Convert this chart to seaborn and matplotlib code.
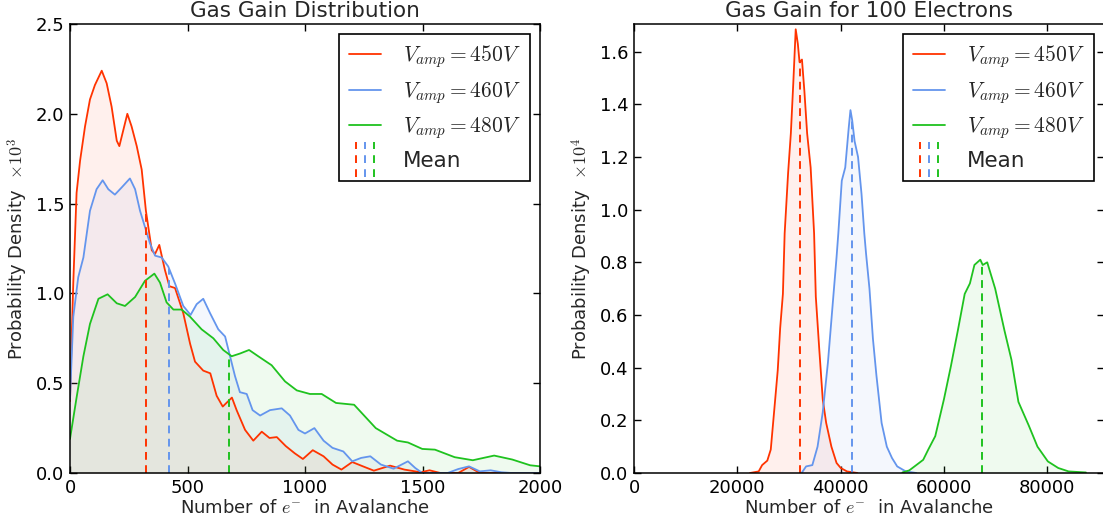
import numpy as np
import pandas as pd
import matplotlib
matplotlib.use('Agg')
import matplotlib.pyplot as plt
import seaborn as sns
from matplotlib.lines import Line2D
from matplotlib.legend_handler import HandlerBase

# ---- data (density in units of 1e-3 / 1e-4) ----
# left panel: single electron gain distribution
red_x = [0, 7, 14, 28, 43, 64, 85, 106, 135, 156, 177, 199, 210, 227, 244, 262, 284, 305,
         323, 348, 362, 380, 404, 423, 447, 482, 511, 532, 567, 597, 624, 650, 689, 709,
         745, 780, 816, 849, 880, 918, 956, 991, 1033, 1079, 1117, 1155, 1201, 1239, 1293,
         1362, 1423, 1492, 1530, 1576, 1652, 1698, 1744, 2000]
red_y = [0.4, 0.75, 1.06, 1.56, 1.74, 1.93, 2.08, 2.16, 2.24, 2.17, 2.04, 1.85, 1.82, 1.91,
         2.0, 1.93, 1.82, 1.69, 1.46, 1.24, 1.22, 1.27, 1.13, 1.04, 1.03, 0.89, 0.72, 0.62,
         0.57, 0.555, 0.43, 0.37, 0.42, 0.35, 0.24, 0.18, 0.23, 0.195, 0.2, 0.15, 0.11, 0.078,
         0.127, 0.093, 0.047, 0.019, 0.061, 0.041, 0.013, 0.041, 0.019, 0.004, 0.015, 0.0,
         0.0, 0.034, 0.0, 0.0]

blue_x = [0, 14, 35, 57, 85, 113, 139, 163, 191, 220, 255, 277, 298, 319, 340, 362, 390, 418,
          447, 482, 513, 539, 567, 596, 631, 660, 681, 702, 723, 752, 777, 809, 851, 901, 936,
          972, 1000, 1040, 1079, 1117, 1163, 1201, 1239, 1278, 1323, 1377, 1438, 1469, 1499,
          1607, 1652, 1698, 1744, 1790, 1836, 1880, 2000]
blue_y = [0.41, 0.87, 1.09, 1.2, 1.46, 1.58, 1.63, 1.58, 1.55, 1.59, 1.64, 1.58, 1.46, 1.37,
          1.28, 1.21, 1.2, 1.15, 1.055, 0.93, 0.88, 0.94, 0.97, 0.89, 0.8, 0.76, 0.65, 0.54,
          0.45, 0.44, 0.35, 0.32, 0.35, 0.36, 0.32, 0.24, 0.22, 0.25, 0.18, 0.14, 0.12, 0.065,
          0.084, 0.093, 0.047, 0.024, 0.065, 0.028, 0.0, 0.0, 0.022, 0.037, 0.009, 0.015,
          0.004, 0.0, 0.0]

green_x = [0, 28, 57, 85, 121, 160, 199, 234, 277, 319, 359, 383, 411, 440, 475, 511, 560, 610,
           652, 688, 723, 762, 801, 858, 915, 965, 1021, 1071, 1132, 1209, 1301, 1392, 1438,
           1499, 1553, 1637, 1714, 1805, 1882, 1958, 2000]
green_y = [0.19, 0.42, 0.65, 0.83, 0.97, 0.995, 0.945, 0.93, 0.98, 1.07, 1.11, 1.06, 0.95,
           0.91, 0.91, 0.87, 0.8, 0.75, 0.685, 0.65, 0.665, 0.685, 0.65, 0.6, 0.51, 0.46, 0.44,
           0.44, 0.39, 0.38, 0.25, 0.18, 0.17, 0.134, 0.13, 0.088, 0.071, 0.097, 0.075, 0.043,
           0.037]

means_single = [323, 423, 675]

# right panel: gain for 100 electrons
red100_x = [22460, 24140, 24810, 25810, 26480, 27160, 27830, 28300, 28830, 29170, 29840, 30370,
            30840, 31310, 31720, 32050, 32520, 32990, 33520, 34200, 34870, 35200, 35870, 36540,
            37210, 38220, 39220, 40030, 41240, 43250]
red100_y = [0.0, 0.006, 0.03, 0.047, 0.089, 0.24, 0.39, 0.55, 0.68, 0.91, 1.14, 1.29, 1.48,
            1.685, 1.63, 1.56, 1.57, 1.45, 1.29, 1.16, 0.91, 0.67, 0.47, 0.28, 0.19, 0.10,
            0.038, 0.019, 0.006, 0.0]

blue100_x = [32520, 33320, 34530, 35540, 36540, 37550, 38550, 39220, 39560, 40230, 40900, 41570,
             41910, 42240, 42710, 43380, 44050, 44590, 44920, 45590, 46260, 46940, 47940, 48950,
             49950, 50960, 52630, 54650]
blue100_y = [0.002, 0.025, 0.03, 0.1, 0.23, 0.42, 0.66, 0.82, 0.91, 1.11, 1.16, 1.31, 1.378,
             1.34, 1.26, 1.2, 1.06, 0.91, 0.835, 0.7, 0.51, 0.37, 0.19, 0.1, 0.057, 0.025,
             0.006, 0.0]

green100_x = [51960, 53300, 54650, 55990, 57000, 58330, 60010, 61350, 62690, 64030, 65040, 65910,
              67050, 67520, 68390, 69930, 71740, 73080, 74430, 76440, 78120, 80130, 82140,
              84150, 87500]
green100_y = [0.002, 0.01, 0.03, 0.05, 0.09, 0.14, 0.28, 0.405, 0.54, 0.68, 0.72, 0.79, 0.81,
              0.79, 0.8, 0.7, 0.54, 0.43, 0.27, 0.18, 0.10, 0.044, 0.019, 0.006, 0.002]

means_100 = [32050, 42240, 67450]

labels = [r'$V_{amp}=450V$', r'$V_{amp}=460V$', r'$V_{amp}=480V$']
colors = ['#ff3300', '#6495ed', '#1fc21f']

# ---- style ----
sns.set_theme(style='ticks', rc={
    'xtick.direction': 'in', 'ytick.direction': 'in',
    'xtick.top': True, 'ytick.right': True,
    'xtick.major.size': 5, 'ytick.major.size': 5,
    'xtick.color': 'black', 'ytick.color': 'black',
    'axes.edgecolor': 'black', 'axes.linewidth': 1.1,
    'mathtext.fontset': 'cm',
})
plt.rcParams['font.family'] = ['DejaVu Sans']


class MeanKey:
    pass


class MeanHandler(HandlerBase):
    # three short dashed verticals, one per colour
    def create_artists(self, legend, orig_handle, xdescent, ydescent, width, height, fontsize, trans):
        arts = []
        for i, c in enumerate(colors):
            x = -xdescent + width * (0.23 + 0.27 * i)
            ln = Line2D([x, x], [-ydescent - 0.65 * height, -ydescent + 1.65 * height],
                        color=c, lw=1.4, ls=(0, (4, 3.2)), transform=trans)
            arts.append(ln)
        return arts


def panel(ax, curves, means, xlim, ylim, xticks, yticks, title, ylab):
    for (cx, cy), c, lab in zip(curves, colors, labels):
        df = pd.DataFrame({'x': cx, 'y': cy})
        sns.lineplot(data=df, x='x', y='y', ax=ax, color=c, lw=1.3, label=lab)
        ax.fill_between(cx, cy, color=c, alpha=0.07, lw=0)
    for (cx, cy), m, c in zip(curves, means, colors):
        h = np.interp(m, cx, cy)
        ax.plot([m, m], [0, h], color=c, lw=1.4, ls=(0, (4, 2.8)))
    ax.set_xlim(*xlim)
    ax.set_ylim(*ylim)
    ax.set_xticks(xticks)
    ax.set_yticks(yticks)
    ax.tick_params(labelsize=13, width=1, pad=4)
    ax.set_title(title, fontsize=15.5, pad=5)
    ax.set_xlabel(r'Number of $e^{-}$  in Avalanche', fontsize=13, labelpad=2)
    ax.set_ylabel(ylab, fontsize=13, labelpad=4)
    handles, labs = ax.get_legend_handles_labels()
    handles = handles[:3] + [MeanKey()]
    labs = labs[:3] + ['Mean']
    leg = ax.legend(handles, labs, handler_map={MeanKey: MeanHandler()}, loc='upper right',
                    fontsize=15.5, frameon=True, fancybox=False, framealpha=1,
                    edgecolor='black', handlelength=1.5, handletextpad=1.0,
                    labelspacing=0.45, borderpad=0.45, borderaxespad=0.45)
    leg.get_frame().set_linewidth(1.2)


fig = plt.figure(figsize=(11.03, 5.25), dpi=100)
ax1 = fig.add_axes([70 / 1103, 52 / 525, 470 / 1103, 449 / 525])
ax2 = fig.add_axes([634 / 1103, 52 / 525, 470 / 1103, 449 / 525])

panel(ax1, [(red_x, red_y), (blue_x, blue_y), (green_x, green_y)], means_single,
      (0, 2000), (0, 2.5), [0, 500, 1000, 1500, 2000], [0, 0.5, 1.0, 1.5, 2.0, 2.5],
      'Gas Gain Distribution', r'Probability Density  $\times10^{3}$')
panel(ax2, [(red100_x, red100_y), (blue100_x, blue100_y), (green100_x, green100_y)], means_100,
      (0, 91000), (0, 1.705), [0, 20000, 40000, 60000, 80000],
      [0, 0.2, 0.4, 0.6, 0.8, 1.0, 1.2, 1.4, 1.6],
      'Gas Gain for 100 Electrons', r'Probability Density  $\times10^{4}$')
ax1.yaxis.set_major_formatter(matplotlib.ticker.FormatStrFormatter('%.1f'))
ax2.yaxis.set_major_formatter(matplotlib.ticker.FormatStrFormatter('%.1f'))

fig.savefig('out.png', dpi=100)
